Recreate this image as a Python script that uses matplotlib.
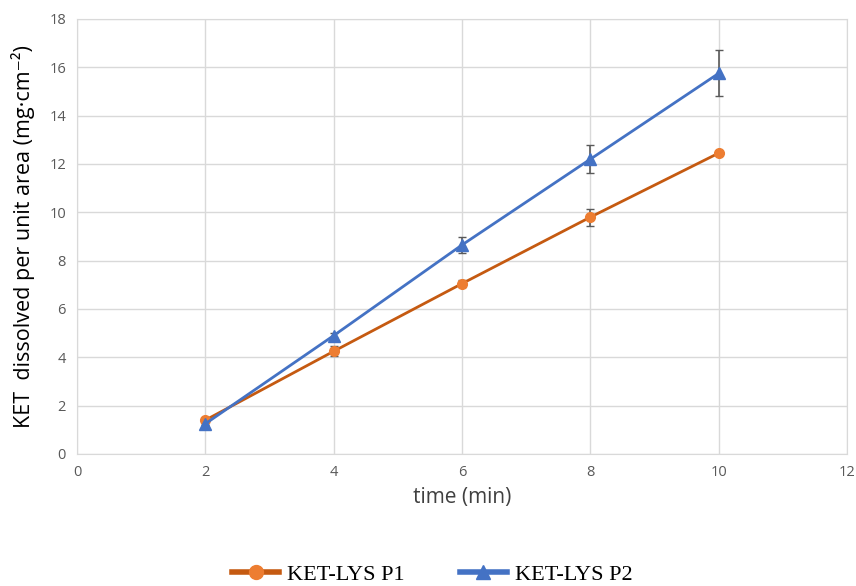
import numpy as np
import matplotlib
matplotlib.use('Agg')
from matplotlib import pyplot as plt
from matplotlib.lines import Line2D

time = [2, 4, 6, 8, 10]
p1 = [1.4, 4.25, 7.05, 9.8, 12.45]
p1_err = [0.08, 0.2, 0.15, 0.35, 0.08]
p2 = [1.25, 4.9, 8.65, 12.2, 15.75]
p2_err = [0.05, 0.12, 0.33, 0.58, 0.95]
labels = ['KET-LYS P1', 'KET-LYS P2']

fig = plt.figure(figsize=(8.56, 5.86), dpi=100)
ax = fig.add_axes([0.09, 0.2253, 0.8995, 0.7423])

# 误差线
ax.errorbar(time, p1, yerr=p1_err, fmt='none', ecolor='#595959', elinewidth=1.2, capsize=3, zorder=2)
ax.errorbar(time, p2, yerr=p2_err, fmt='none', ecolor='#595959', elinewidth=1.2, capsize=3, zorder=2)
ax.plot(time, p1, color='#C55A11', lw=2, marker='o', ms=7,
        mfc='#ED7D31', mec='#ED7D31', zorder=3)
ax.plot(time, p2, color='#4472C4', lw=2, marker='^', ms=8,
        mfc='#4472C4', mec='#4472C4', zorder=4)

ax.set_xlim(0, 12)
ax.set_ylim(0, 18)
ax.set_xticks(np.arange(0, 13, 2))
ax.set_yticks(np.arange(0, 19, 2))
ax.grid(True, color='#d9d9d9', lw=1)
ax.set_axisbelow(True)
for s in ax.spines.values():
    s.set_color('#d9d9d9')
ax.tick_params(length=0, labelsize=10.5, labelcolor='#595959', pad=8)
for t in ax.get_xticklabels() + ax.get_yticklabels():
    t.set_family('Open Sans')

ax.set_xlabel('time (min)', fontsize=15, color='#404040', family='Open Sans', labelpad=5)
ax.set_ylabel('KET  dissolved per unit area (mg·cm⁻²)', fontsize=15.5,
              color='#000000', family=['Open Sans', 'DejaVu Sans'], labelpad=10)

# 图例（加粗的线）
h1 = Line2D([], [], color='#C55A11', lw=4, marker='o', ms=10, mfc='#ED7D31', mec='#ED7D31')
h2 = Line2D([], [], color='#4472C4', lw=4, marker='^', ms=10, mfc='#4472C4', mec='#4472C4')
fig.legend([h1, h2], labels, loc='lower center', bbox_to_anchor=(0.505, -0.032), ncol=2,
           frameon=False, prop={'family': 'Liberation Serif', 'size': 16},
           handlelength=2.1, handletextpad=0.35, columnspacing=2.5)

fig.savefig('out.png', dpi=100)
